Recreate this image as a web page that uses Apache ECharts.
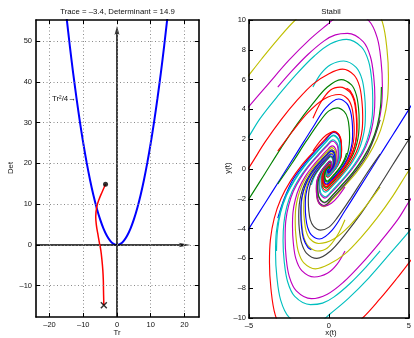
<!DOCTYPE html>
<html><head><meta charset="utf-8">
<script src="https://cdn.jsdelivr.net/npm/echarts@6/dist/echarts.min.js"></script>
<style>html,body{margin:0;padding:0;background:#fff}#c{width:414px;height:338px}</style>
</head><body><div id="c"></div>
<script>
const FONT = '"Liberation Sans", Arial, Helvetica, sans-serif';

// ---------- Left panel (trace-determinant plane) ----------
const titleLeft = 'Trace = \u20133.4, Determinant = 14.9';
const titleRight = 'Stabil';
const leftXTicks = [-20, -10, 0, 10, 20];
const leftYTicks = [-10, 0, 10, 20, 30, 40, 50];
const parabola = [[-15,56.25],[-14,49],[-13,42.25],[-12,36],[-11,30.25],[-10,25],[-9,20.25],[-8,16],[-7,12.25],[-6,9],[-5,6.25],[-4,4],[-3,2.25],[-2,1],[-1,0.25],[0,0],[1,0.25],[2,1],[3,2.25],[4,4],[5,6.25],[6,9],[7,12.25],[8,16],[9,20.25],[10,25],[11,30.25],[12,36],[13,42.25],[14,49],[15,56.25]];
const redPath = [[-3.4,14.9],[-4.4,13.0],[-5.3,11.2],[-6.0,9.3],[-6.3,6.9],[-6.1,4.8],[-5.7,2.8],[-5.25,0.7],[-4.8,-1.3],[-4.45,-3.8],[-4.2,-6.2],[-4.05,-8.7],[-4.0,-11.1],[-3.9,-14.8]];
const startPoint = [[-3.4, 14.9]];
const endPoint = [[-3.9, -14.8]];
const vAxisLine = [[0,-17.7],[0,52]];
const hAxisLine = [[-24,0],[19.5,0]];
const vArrowTip = [[0, 52.6]];
const hArrowTip = [[20.0, 0]];

// ---------- Right panel (phase portrait) trajectories ----------
const U1 = [[-5.5,5.6],[-5.0,6.3],[-4.2,7.4],[-3.2,8.7],[-2.1,10.0],[-0.9,11.0],[0.3,11.6],[1.50,11.80],[2.77,11.09],[3.36,9.79],[3.63,8.02],[3.72,6.25],[3.66,4.72],[3.42,3.30],[3.01,2.01],[2.42,0.83],[1.71,-0.24],[0.94,-1.18],[0.24,-2.01],[-0.32,-2.53],[-0.72,-2.10],[-0.79,-1.33],[-0.73,-0.71],[-0.52,-0.18],[-0.20,0.25],[0.07,0.54],[0.17,0.29],[0.11,0.04],[0,0]];
const U2 = [[-5.5,3.5],[-5.0,4.2],[-3.8,5.7],[-2.5,7.3],[-1.2,8.7],[-0.1,9.7],[0.6,10.3],[1.35,10.60],[2.49,9.96],[3.02,8.80],[3.26,7.21],[3.34,5.62],[3.29,4.24],[3.07,2.97],[2.70,1.80],[2.17,0.74],[1.54,-0.21],[0.85,-1.06],[0.21,-1.80],[-0.29,-2.27],[-0.65,-1.89],[-0.71,-1.20],[-0.66,-0.64],[-0.47,-0.16],[-0.18,0.22],[0.06,0.49],[0.15,0.26],[0.10,0.03],[0,0]];
const U3 = [[-3.2,5.5],[-2.3,6.6],[-1.3,7.7],[-0.3,8.6],[0.4,9.0],[1.16,9.10],[2.14,8.55],[2.59,7.55],[2.80,6.19],[2.87,4.82],[2.82,3.64],[2.64,2.55],[2.32,1.55],[1.87,0.64],[1.32,-0.18],[0.73,-0.91],[0.18,-1.55],[-0.25,-1.95],[-0.56,-1.62],[-0.61,-1.03],[-0.56,-0.55],[-0.40,-0.14],[-0.15,0.19],[0.05,0.42],[0.13,0.22],[0.09,0.03],[0,0]];
const U4 = [[-5.5,1.4],[-5.0,2.2],[-4.3,3.4],[-3.2,4.9],[-2.0,6.4],[-0.9,7.6],[0.1,8.4],[1.10,8.70],[2.04,8.18],[2.48,7.22],[2.68,5.92],[2.74,4.61],[2.70,3.48],[2.52,2.44],[2.22,1.48],[1.78,0.61],[1.26,-0.17],[0.70,-0.87],[0.17,-1.48],[-0.23,-1.86],[-0.53,-1.55],[-0.58,-0.98],[-0.54,-0.52],[-0.38,-0.13],[-0.15,0.18],[0.05,0.40],[0.13,0.21],[0.08,0.03],[0,0]];
const U5 = [[-1.0,5.5],[-0.5,6.4],[0.1,7.0],[0.92,7.25],[1.70,6.82],[2.07,6.02],[2.23,4.93],[2.28,3.84],[2.25,2.90],[2.10,2.03],[1.85,1.23],[1.49,0.51],[1.05,-0.15],[0.58,-0.73],[0.15,-1.23],[-0.20,-1.55],[-0.44,-1.29],[-0.49,-0.82],[-0.45,-0.44],[-0.32,-0.11],[-0.12,0.15],[0.04,0.33],[0.10,0.18],[0.07,0.02],[0,0]];
const U6 = [[-5.5,-0.6],[-5.0,0.1],[-4.0,1.8],[-3.0,3.3],[-2.0,4.6],[-1.0,5.7],[0.0,6.4],[0.85,6.70],[1.57,6.30],[1.91,5.56],[2.06,4.56],[2.11,3.55],[2.08,2.68],[1.94,1.88],[1.71,1.14],[1.37,0.47],[0.97,-0.13],[0.54,-0.67],[0.13,-1.14],[-0.18,-1.43],[-0.41,-1.19],[-0.45,-0.76],[-0.42,-0.40],[-0.29,-0.10],[-0.11,0.14],[0.04,0.31],[0.10,0.16],[0.06,0.02],[0,0]];
const U7 = [[-5.5,-2.8],[-5.0,-2.0],[-4.0,-0.3],[-3.0,1.4],[-2.0,3.0],[-1.0,4.4],[-0.1,5.5],[0.76,6.00],[1.41,5.64],[1.71,4.98],[1.85,4.08],[1.89,3.18],[1.86,2.40],[1.74,1.68],[1.53,1.02],[1.23,0.42],[0.87,-0.12],[0.48,-0.60],[0.12,-1.02],[-0.16,-1.28],[-0.37,-1.07],[-0.40,-0.68],[-0.37,-0.36],[-0.26,-0.09],[-0.10,0.13],[0.04,0.28],[0.09,0.15],[0.06,0.02],[0,0]];
const U8 = [[-1.0,3.4],[-0.5,4.5],[0.1,5.3],[0.70,5.50],[1.29,5.17],[1.57,4.57],[1.69,3.74],[1.73,2.92],[1.71,2.20],[1.60,1.54],[1.40,0.94],[1.13,0.39],[0.80,-0.11],[0.44,-0.55],[0.11,-0.94],[-0.15,-1.18],[-0.34,-0.98],[-0.37,-0.62],[-0.34,-0.33],[-0.24,-0.08],[-0.09,0.12],[0.03,0.25],[0.08,0.13],[0.05,0.02],[0,0]];
const U9 = [[-3.2,1.2],[-2.3,2.5],[-1.3,3.8],[-0.3,4.7],[0.64,5.00],[1.18,4.70],[1.43,4.15],[1.54,3.40],[1.58,2.65],[1.55,2.00],[1.45,1.40],[1.28,0.85],[1.03,0.35],[0.73,-0.10],[0.40,-0.50],[0.10,-0.85],[-0.14,-1.07],[-0.31,-0.89],[-0.34,-0.57],[-0.31,-0.30],[-0.22,-0.08],[-0.09,0.11],[0.03,0.23],[0.07,0.12],[0.05,0.02],[0,0]];
const U10 = [[-5.5,-4.9],[-5.0,-4.0],[-4.0,-2.3],[-3.0,-0.6],[-2.0,1.1],[-1.0,2.8],[-0.2,4.1],[0.60,4.70],[1.10,4.42],[1.34,3.90],[1.45,3.20],[1.48,2.49],[1.46,1.88],[1.36,1.32],[1.20,0.80],[0.96,0.33],[0.68,-0.09],[0.38,-0.47],[0.09,-0.80],[-0.13,-1.01],[-0.29,-0.84],[-0.31,-0.53],[-0.29,-0.28],[-0.21,-0.07],[-0.08,0.10],[0.03,0.22],[0.07,0.11],[0.04,0.02],[0,0]];
const U11 = [[-3.2,-1.0],[-2.3,0.4],[-1.4,1.9],[-0.5,3.3],[0.0,3.9],[0.52,4.10],[0.96,3.85],[1.17,3.40],[1.26,2.79],[1.29,2.17],[1.27,1.64],[1.19,1.15],[1.05,0.70],[0.84,0.29],[0.59,-0.08],[0.33,-0.41],[0.08,-0.70],[-0.11,-0.88],[-0.25,-0.73],[-0.27,-0.46],[-0.25,-0.25],[-0.18,-0.06],[-0.07,0.09],[0.02,0.19],[0.06,0.10],[0.04,0.01],[0,0]];
const U12 = [[-3.2,-3.3],[-2.8,-2.0],[-2.3,-0.8],[-1.6,0.25],[-0.9,1.15],[-0.25,1.9],[0.31,2.45],[0.58,2.30],[0.70,2.03],[0.75,1.67],[0.77,1.30],[0.76,0.98],[0.71,0.69],[0.62,0.42],[0.50,0.17],[0.36,-0.05],[0.20,-0.25],[0.05,-0.42],[-0.07,-0.52],[-0.15,-0.44],[-0.16,-0.28],[-0.15,-0.15],[-0.11,-0.04],[-0.04,0.05],[0.01,0.11],[0,0]];
const U13 = [[-1.0,1.2],[-0.6,1.8],[-0.15,2.3],[0.32,2.50],[0.59,2.35],[0.71,2.08],[0.77,1.70],[0.79,1.33],[0.78,1.00],[0.73,0.70],[0.64,0.43],[0.51,0.18],[0.36,-0.05],[0.20,-0.25],[0.05,-0.43],[-0.07,-0.54],[-0.15,-0.45],[-0.17,-0.28],[-0.16,-0.15],[-0.11,-0.04],[-0.04,0.05],[0.02,0.12],[0,0]];
const U15 = [[3.28,5.51],[3.22,4.16],[3.02,2.91],[2.65,1.77],[2.13,0.73],[1.51,-0.21],[0.83,-1.04],[0.21,-1.77],[-0.28,-2.23],[-0.63,-1.85],[-0.70,-1.18],[-0.64,-0.62],[-0.46,-0.16],[-0.18,0.22],[0.06,0.48],[0.15,0.25],[0.10,0.03],[0,0]];
const U16 = [[1.1,5.42],[1.32,5.26],[1.60,4.65],[1.72,3.81],[1.76,2.97],[1.74,2.24],[1.62,1.57],[1.43,0.95],[1.15,0.39],[0.81,-0.11],[0.45,-0.56],[0.11,-0.95],[-0.15,-1.20],[-0.34,-1.00],[-0.38,-0.63],[-0.35,-0.34],[-0.25,-0.08],[-0.10,0.12],[0.03,0.26],[0.08,0.14],[0,0]];
const U17 = [[-1.1,-1.06],[-0.97,-0.65],[-0.78,-0.27],[-0.55,0.08],[-0.30,0.38],[-0.08,0.65],[0.10,0.81],[0.23,0.67],[0.26,0.43],[0.23,0.23],[0.17,0.06],[0.06,-0.08],[-0.02,-0.17],[-0.05,-0.09],[-0.03,-0.01],[0,0]];

const L1 = [[5.5,-5.6],[5.0,-6.3],[4.2,-7.4],[3.2,-8.7],[2.1,-10.0],[0.9,-11.0],[-0.3,-11.6],[-1.50,-11.80],[-2.77,-11.09],[-3.36,-9.79],[-3.63,-8.02],[-3.72,-6.25],[-3.66,-4.72],[-3.42,-3.30],[-3.01,-2.01],[-2.42,-0.83],[-1.71,0.24],[-0.94,1.18],[-0.24,2.01],[0.32,2.53],[0.72,2.10],[0.79,1.33],[0.73,0.71],[0.52,0.18],[0.20,-0.25],[-0.07,-0.54],[-0.17,-0.29],[-0.11,-0.04],[0,0]];
const L2 = [[5.5,-3.5],[5.0,-4.2],[3.8,-5.7],[2.5,-7.3],[1.2,-8.7],[0.1,-9.7],[-0.6,-10.3],[-1.35,-10.60],[-2.49,-9.96],[-3.02,-8.80],[-3.26,-7.21],[-3.34,-5.62],[-3.29,-4.24],[-3.07,-2.97],[-2.70,-1.80],[-2.17,-0.74],[-1.54,0.21],[-0.85,1.06],[-0.21,1.80],[0.29,2.27],[0.65,1.89],[0.71,1.20],[0.66,0.64],[0.47,0.16],[0.18,-0.22],[-0.06,-0.49],[-0.15,-0.26],[-0.10,-0.03],[0,0]];
const L3 = [[3.2,-5.5],[2.3,-6.6],[1.3,-7.7],[0.3,-8.6],[-0.4,-9.0],[-1.16,-9.10],[-2.14,-8.55],[-2.59,-7.55],[-2.80,-6.19],[-2.87,-4.82],[-2.82,-3.64],[-2.64,-2.55],[-2.32,-1.55],[-1.87,-0.64],[-1.32,0.18],[-0.73,0.91],[-0.18,1.55],[0.25,1.95],[0.56,1.62],[0.61,1.03],[0.56,0.55],[0.40,0.14],[0.15,-0.19],[-0.05,-0.42],[-0.13,-0.22],[-0.09,-0.03],[0,0]];
const L4 = [[5.5,-1.4],[5.0,-2.2],[4.3,-3.4],[3.2,-4.9],[2.0,-6.4],[0.9,-7.6],[-0.1,-8.4],[-1.10,-8.70],[-2.04,-8.18],[-2.48,-7.22],[-2.68,-5.92],[-2.74,-4.61],[-2.70,-3.48],[-2.52,-2.44],[-2.22,-1.48],[-1.78,-0.61],[-1.26,0.17],[-0.70,0.87],[-0.17,1.48],[0.23,1.86],[0.53,1.55],[0.58,0.98],[0.54,0.52],[0.38,0.13],[0.15,-0.18],[-0.05,-0.40],[-0.13,-0.21],[-0.08,-0.03],[0,0]];
const L5 = [[1.0,-5.5],[0.5,-6.4],[-0.1,-7.0],[-0.92,-7.25],[-1.70,-6.82],[-2.07,-6.02],[-2.23,-4.93],[-2.28,-3.84],[-2.25,-2.90],[-2.10,-2.03],[-1.85,-1.23],[-1.49,-0.51],[-1.05,0.15],[-0.58,0.73],[-0.15,1.23],[0.20,1.55],[0.44,1.29],[0.49,0.82],[0.45,0.44],[0.32,0.11],[0.12,-0.15],[-0.04,-0.33],[-0.10,-0.18],[-0.07,-0.02],[0,0]];
const L6 = [[5.5,0.6],[5.0,-0.1],[4.0,-1.8],[3.0,-3.3],[2.0,-4.6],[1.0,-5.7],[0.0,-6.4],[-0.85,-6.70],[-1.57,-6.30],[-1.91,-5.56],[-2.06,-4.56],[-2.11,-3.55],[-2.08,-2.68],[-1.94,-1.88],[-1.71,-1.14],[-1.37,-0.47],[-0.97,0.13],[-0.54,0.67],[-0.13,1.14],[0.18,1.43],[0.41,1.19],[0.45,0.76],[0.42,0.40],[0.29,0.10],[0.11,-0.14],[-0.04,-0.31],[-0.10,-0.16],[-0.06,-0.02],[0,0]];
const L7 = [[5.5,2.8],[5.0,2.0],[4.0,0.3],[3.0,-1.4],[2.0,-3.0],[1.0,-4.4],[0.1,-5.5],[-0.76,-6.00],[-1.41,-5.64],[-1.71,-4.98],[-1.85,-4.08],[-1.89,-3.18],[-1.86,-2.40],[-1.74,-1.68],[-1.53,-1.02],[-1.23,-0.42],[-0.87,0.12],[-0.48,0.60],[-0.12,1.02],[0.16,1.28],[0.37,1.07],[0.40,0.68],[0.37,0.36],[0.26,0.09],[0.10,-0.13],[-0.04,-0.28],[-0.09,-0.15],[-0.06,-0.02],[0,0]];
const L8 = [[1.0,-3.4],[0.5,-4.5],[-0.1,-5.3],[-0.70,-5.50],[-1.29,-5.17],[-1.57,-4.57],[-1.69,-3.74],[-1.73,-2.92],[-1.71,-2.20],[-1.60,-1.54],[-1.40,-0.94],[-1.13,-0.39],[-0.80,0.11],[-0.44,0.55],[-0.11,0.94],[0.15,1.18],[0.34,0.98],[0.37,0.62],[0.34,0.33],[0.24,0.08],[0.09,-0.12],[-0.03,-0.25],[-0.08,-0.13],[-0.05,-0.02],[0,0]];
const L9 = [[3.2,-1.2],[2.3,-2.5],[1.3,-3.8],[0.3,-4.7],[-0.64,-5.00],[-1.18,-4.70],[-1.43,-4.15],[-1.54,-3.40],[-1.58,-2.65],[-1.55,-2.00],[-1.45,-1.40],[-1.28,-0.85],[-1.03,-0.35],[-0.73,0.10],[-0.40,0.50],[-0.10,0.85],[0.14,1.07],[0.31,0.89],[0.34,0.57],[0.31,0.30],[0.22,0.08],[0.09,-0.11],[-0.03,-0.23],[-0.07,-0.12],[-0.05,-0.02],[0,0]];
const L10 = [[5.5,4.9],[5.0,4.0],[4.0,2.3],[3.0,0.6],[2.0,-1.1],[1.0,-2.8],[0.2,-4.1],[-0.60,-4.70],[-1.10,-4.42],[-1.34,-3.90],[-1.45,-3.20],[-1.48,-2.49],[-1.46,-1.88],[-1.36,-1.32],[-1.20,-0.80],[-0.96,-0.33],[-0.68,0.09],[-0.38,0.47],[-0.09,0.80],[0.13,1.01],[0.29,0.84],[0.31,0.53],[0.29,0.28],[0.21,0.07],[0.08,-0.10],[-0.03,-0.22],[-0.07,-0.11],[-0.04,-0.02],[0,0]];
const L11 = [[3.2,1.0],[2.3,-0.4],[1.4,-1.9],[0.5,-3.3],[0.0,-3.9],[-0.52,-4.10],[-0.96,-3.85],[-1.17,-3.40],[-1.26,-2.79],[-1.29,-2.17],[-1.27,-1.64],[-1.19,-1.15],[-1.05,-0.70],[-0.84,-0.29],[-0.59,0.08],[-0.33,0.41],[-0.08,0.70],[0.11,0.88],[0.25,0.73],[0.27,0.46],[0.25,0.25],[0.18,0.06],[0.07,-0.09],[-0.02,-0.19],[-0.06,-0.10],[-0.04,-0.01],[0,0]];
const L12 = [[3.2,3.3],[2.8,2.0],[2.3,0.8],[1.6,-0.25],[0.9,-1.15],[0.25,-1.9],[-0.31,-2.45],[-0.58,-2.30],[-0.70,-2.03],[-0.75,-1.67],[-0.77,-1.30],[-0.76,-0.98],[-0.71,-0.69],[-0.62,-0.42],[-0.50,-0.17],[-0.36,0.05],[-0.20,0.25],[-0.05,0.42],[0.07,0.52],[0.15,0.44],[0.16,0.28],[0.15,0.15],[0.11,0.04],[0.04,-0.05],[-0.01,-0.11],[0,0]];
const L13 = [[1.0,-1.2],[0.6,-1.8],[0.15,-2.3],[-0.32,-2.50],[-0.59,-2.35],[-0.71,-2.08],[-0.77,-1.70],[-0.79,-1.33],[-0.78,-1.00],[-0.73,-0.70],[-0.64,-0.43],[-0.51,-0.18],[-0.36,0.05],[-0.20,0.25],[-0.05,0.43],[0.07,0.54],[0.15,0.45],[0.17,0.28],[0.16,0.15],[0.11,0.04],[0.04,-0.05],[-0.02,-0.12],[0,0]];
const L15 = [[-3.28,-5.51],[-3.22,-4.16],[-3.02,-2.91],[-2.65,-1.77],[-2.13,-0.73],[-1.51,0.21],[-0.83,1.04],[-0.21,1.77],[0.28,2.23],[0.63,1.85],[0.70,1.18],[0.64,0.62],[0.46,0.16],[0.18,-0.22],[-0.06,-0.48],[-0.15,-0.25],[-0.10,-0.03],[0,0]];
const L16 = [[-1.1,-5.42],[-1.32,-5.26],[-1.60,-4.65],[-1.72,-3.81],[-1.76,-2.97],[-1.74,-2.24],[-1.62,-1.57],[-1.43,-0.95],[-1.15,-0.39],[-0.81,0.11],[-0.45,0.56],[-0.11,0.95],[0.15,1.20],[0.34,1.00],[0.38,0.63],[0.35,0.34],[0.25,0.08],[0.10,-0.12],[-0.03,-0.26],[-0.08,-0.14],[0,0]];
const L17 = [[1.1,1.06],[0.97,0.65],[0.78,0.27],[0.55,-0.08],[0.30,-0.38],[0.08,-0.65],[-0.10,-0.81],[-0.23,-0.67],[-0.26,-0.43],[-0.23,-0.23],[-0.17,-0.06],[-0.06,0.08],[0.02,0.17],[0.05,0.09],[0.03,0.01],[0,0]];

const BLUE = '#0000ff', GREEN = '#008000', RED = '#ff0000', CYAN = '#00bfbf', MAG = '#bf00bf', YEL = '#bfbf00', BLK = '#404040';
const trajList = [U1, U2, U3, U4, U5, U6, U7, U8, U9, U10, U11, U12, U13, U15, U16, U17,
                  L1, L2, L3, L4, L5, L6, L7, L8, L9, L10, L11, L12, L13, L15, L16, L17];
const trajColors = [YEL, MAG, MAG, CYAN, CYAN, RED, GREEN, RED, RED, BLUE, GREEN, BLUE, RED, GREEN, RED, CYAN,
                    RED, CYAN, CYAN, MAG, MAG, YEL, BLK, YEL, YEL, BLUE, BLK, BLK, MAG, CYAN, BLUE, GREEN];

const dash = s => String(s).replace('-', '\u2013');
const labelStyle = { fontFamily: FONT, fontSize: 7.5, color: '#111' };

function frameAxis(extra) {
  return Object.assign({
    type: 'value', z: 10,
    axisLine: { show: true, onZero: false, lineStyle: { color: '#000', width: 1.6 } },
    axisTick: { show: true, inside: true, length: 4, lineStyle: { color: '#000', width: 1 } },
    axisLabel: { show: false },
    splitLine: { show: false }
  }, extra);
}
const gridDots = { show: true, lineStyle: { color: '#8a8a8a', width: 1, type: [1, 2.5] } };

const chart = echarts.init(document.getElementById('c'), null, { renderer: 'canvas' });
const series = [];

series.push({ type: 'line', xAxisIndex: 0, yAxisIndex: 0, data: parabola, smooth: 0.3, symbol: 'none',
  lineStyle: { color: BLUE, width: 2 }, z: 3 });
series.push({ type: 'line', xAxisIndex: 0, yAxisIndex: 0, data: vAxisLine, symbol: 'none',
  lineStyle: { color: '#000', width: 1.5 }, z: 4 });
series.push({ type: 'line', xAxisIndex: 0, yAxisIndex: 0, data: hAxisLine, symbol: 'none',
  lineStyle: { color: '#000', width: 1.5 }, z: 4 });
const arrowPath = 'path://M5,0L10,14L5,10.5L0,14Z';
series.push({ type: 'scatter', xAxisIndex: 0, yAxisIndex: 0, data: vArrowTip, symbol: arrowPath,
  symbolSize: [5, 9], itemStyle: { color: '#000' }, z: 5 });
series.push({ type: 'scatter', xAxisIndex: 0, yAxisIndex: 0, data: hArrowTip, symbol: arrowPath,
  symbolSize: [4.5, 12], symbolRotate: -90, itemStyle: { color: '#000' }, z: 5 });
series.push({ type: 'line', xAxisIndex: 0, yAxisIndex: 0, data: redPath, smooth: 0.4, symbol: 'none',
  lineStyle: { color: RED, width: 1.5 }, z: 6 });
series.push({ type: 'scatter', xAxisIndex: 0, yAxisIndex: 0, data: startPoint, symbol: 'circle',
  symbolSize: 5, itemStyle: { color: '#000' }, z: 7 });
series.push({ type: 'scatter', xAxisIndex: 0, yAxisIndex: 0, data: endPoint,
  symbol: 'path://M0,1.5L1.5,0L5,3.5L8.5,0L10,1.5L6.5,5L10,8.5L8.5,10L5,6.5L1.5,10L0,8.5L3.5,5Z',
  symbolSize: 7, itemStyle: { color: '#000' }, z: 7 });

trajList.forEach((d, i) => {
  series.push({ type: 'line', xAxisIndex: 2, yAxisIndex: 2, data: d, smooth: 0.35, symbol: 'none',
    clip: true, lineStyle: { color: trajColors[i], width: 1.15 }, z: 2 });
});

const txt = (x, y, text, rot, size) => ({
  type: 'text', x: x, y: y, rotation: rot || 0, silent: true,
  style: { text: text, fill: '#111', font: (size || 7.8) + 'px ' + FONT,
    align: 'center', verticalAlign: 'middle', textAlign: 'center', textVerticalAlign: 'middle' }
});

chart.setOption({
  animation: false,
  backgroundColor: '#fff',
  grid: [
    { left: 36, top: 20, width: 163, height: 297 },
    { left: 249, top: 20, width: 164, height: 298 }
  ],
  xAxis: [
    frameAxis({ gridIndex: 0, position: 'bottom', min: -24, max: 24.3,
      axisTick: { show: true, inside: true, length: 4, customValues: leftXTicks, lineStyle: { color: '#000' } },
      axisLabel: Object.assign({ show: true, margin: 4, customValues: leftXTicks, formatter: dash }, labelStyle),
      splitLine: gridDots }),
    frameAxis({ gridIndex: 0, position: 'top', min: -24, max: 24.3,
      axisTick: { show: true, inside: true, length: 4, customValues: leftXTicks, lineStyle: { color: '#000' } } }),
    frameAxis({ gridIndex: 1, position: 'bottom', min: -5, max: 5, interval: 5,
      axisLabel: Object.assign({ show: true, margin: 4, formatter: dash }, labelStyle) }),
    frameAxis({ gridIndex: 1, position: 'top', min: -5, max: 5, interval: 5 })
  ],
  yAxis: [
    frameAxis({ gridIndex: 0, position: 'left', min: -17.7, max: 55.2,
      axisTick: { show: true, inside: true, length: 4, customValues: leftYTicks, lineStyle: { color: '#000' } },
      axisLabel: Object.assign({ show: true, margin: 4, customValues: leftYTicks, formatter: dash }, labelStyle),
      splitLine: gridDots }),
    frameAxis({ gridIndex: 0, position: 'right', min: -17.7, max: 55.2,
      axisTick: { show: true, inside: true, length: 4, customValues: leftYTicks, lineStyle: { color: '#000' } } }),
    frameAxis({ gridIndex: 1, position: 'left', min: -10, max: 10, interval: 2,
      axisLabel: Object.assign({ show: true, margin: 3, formatter: dash }, labelStyle) }),
    frameAxis({ gridIndex: 1, position: 'right', min: -10, max: 10, interval: 2 })
  ],
  series: series,
  graphic: [
    txt(117.5, 12, titleLeft),
    txt(331, 12, titleRight),
    txt(117, 333, 'Tr'),
    txt(331, 333, 'x(t)'),
    txt(11, 168, 'Det', Math.PI / 2),
    txt(228, 168, 'y(t)', Math.PI / 2),
    { type: 'text', x: 52, y: 99, silent: true,
      style: { text: 'Tr\u00b2/4\u2192', fill: '#111', font: '7.8px ' + FONT, align: 'left', verticalAlign: 'middle', textAlign: 'left', textVerticalAlign: 'middle' } }
  ]
});
</script></body></html>
